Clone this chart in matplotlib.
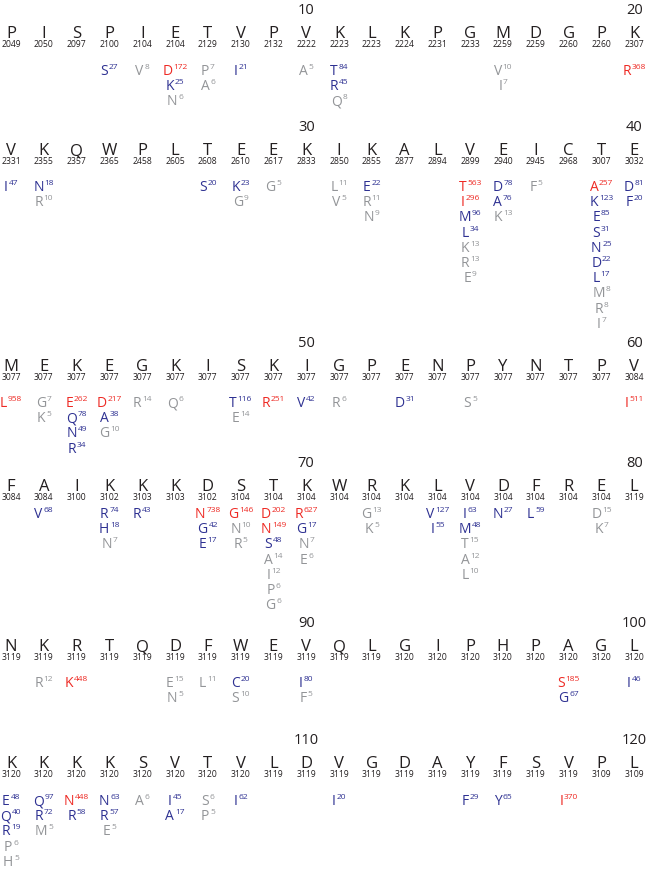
import re
import matplotlib
matplotlib.use('Agg')
import matplotlib.pyplot as plt

plt.rcParams['font.family'] = ['Open Sans', 'DejaVu Sans']

# reference residues, 20 per row
seq_rows = ["PISPIETVPVKLKPGMDGPK",
            "VKQWPLTEEKIKALVEICTE",
            "MEKEGKISKIGPENPYNTPV",
            "FAIKKKDSTKWRKLVDFREL",
            "NKRTQDFWEVQLGIPHPAGL",
            "KKKKSVTVLDVGDAYFSVPL"]

# number of sequences covering each position
coverage = [
    [2049, 2050, 2097, 2100, 2104, 2104, 2129, 2130, 2132, 2222,
     2223, 2223, 2224, 2231, 2233, 2259, 2259, 2260, 2260, 2307],
    [2331, 2355, 2357, 2365, 2458, 2605, 2608, 2610, 2617, 2833,
     2850, 2855, 2877, 2894, 2899, 2940, 2945, 2968, 3007, 3032],
    [3077] * 19 + [3084],
    [3084, 3084, 3100, 3102, 3103, 3103, 3102, 3104, 3104, 3104,
     3104, 3104, 3104, 3104, 3104, 3104, 3104, 3104, 3104, 3119],
    [3119] * 12 + [3120] * 8,
    [3120] * 8 + [3119] * 10 + [3109, 3109],
]

# substitutions observed at each position (letter + count)
variants = [
    ["", "", "", "S27", "V8", "D172 K25 N6", "P7 A6", "I21", "", "A5",
     "T84 R45 Q8", "", "", "", "", "V10 I7", "", "", "", "R368"],
    ["I47", "N18 R10", "", "", "", "", "S20", "K23 G9", "G5", "",
     "L11 V5", "E22 R11 N9", "", "", "T563 I296 M96 L34 K13 R13 E9",
     "D78 A76 K13", "F5", "", "A257 K123 E85 S31 N25 D22 L17 M8 R8 I7", "D81 F20"],
    ["L958", "G7 K5", "E262 Q78 N49 R34", "D217 A38 G10", "R14", "Q6", "",
     "T116 E14", "R251", "V42", "R6", "", "D31", "", "S5", "", "", "", "", "I511"],
    ["", "V68", "", "R74 H18 N7", "R43", "", "N738 G42 E17", "G146 N10 R5",
     "D202 N149 S48 A14 I12 P6 G6", "R627 G17 N7 E6", "", "G13 K5", "",
     "V127 I55", "I63 M48 T15 A12 L10", "N27", "L59", "", "D15 K7", ""],
    ["", "R12", "K448", "", "", "E15 N5", "L11", "C20 S10", "", "I80 F5",
     "", "", "", "", "", "", "", "S185 G67", "", "I46"],
    ["E48 Q40 R19 P6 H5", "Q97 R72 M5", "N448 R58", "N63 R57 E5", "A6",
     "I45 A17", "S6 P5", "I62", "", "", "I20", "", "", "", "F29", "Y65",
     "", "I370", "", ""],
]

RED, BLUE, GRAY, BLACK = '#ee2a24', '#2e3192', '#939598', '#231f20'

def var_color(n):
    if n >= 140:
        return RED
    if n >= 16:
        return BLUE
    return GRAY

# layout in pixels
row_y = [32, 149, 365, 485, 645, 762]
var_off = [38, 37, 37, 28, 37, 38]
step = 15.2
x0, dx = 11, 32.8

fig = plt.figure(figsize=(6.49, 8.69), dpi=100)
ax = fig.add_axes([0, 0, 1, 1])
ax.set_xlim(0, 649)
ax.set_ylim(869, 0)
ax.axis('off')
renderer = fig.canvas.get_renderer()

for r in range(6):
    y = row_y[r]
    for j in range(20):
        x = x0 + dx * j
        pos = r * 20 + j + 1
        if pos % 10 == 0:
            ax.text(x, y - 18, str(pos), ha='center', va='baseline',
                    fontsize=10.5, color=BLACK)
        ax.text(x, y + 6, seq_rows[r][j], ha='center', va='baseline',
                fontsize=12, color=BLACK)
        ax.text(x, y + 15, str(coverage[r][j]), ha='center', va='baseline',
                fontsize=6.2, color=BLACK)
        for k, v in enumerate(variants[r][j].split()):
            m = re.match(r'([A-Z])(\d+)', v)
            aa, n = m.group(1), int(m.group(2))
            c = var_color(n)
            yc = y + var_off[r] + k * step
            t1 = ax.text(0, yc + 5, aa, ha='left', va='baseline',
                         fontsize=10, color=c)
            t2 = ax.text(0, yc - 1, str(n), ha='left', va='baseline',
                         fontsize=6, color=c)
            w1 = t1.get_window_extent(renderer).width
            w2 = t2.get_window_extent(renderer).width
            left = x - (w1 + 0.8 + w2) / 2
            t1.set_x(left)
            t2.set_x(left + w1 + 0.8)

fig.savefig('out.png', dpi=100)
